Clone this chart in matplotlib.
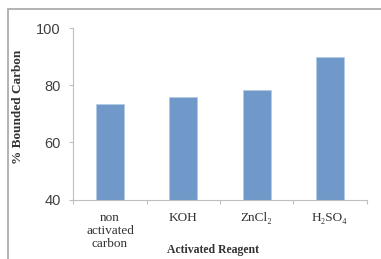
import matplotlib
matplotlib.use('Agg')
import matplotlib.pyplot as plt
from matplotlib.patches import Rectangle
import numpy as np

# data
reagents = ['non\nactivated\ncarbon', 'KOH', 'ZnCl\u2082', 'H\u2082SO\u2084']
bounded_carbon = [73.4, 75.9, 78.3, 89.9]
y_ticks = [40, 60, 80, 100]

serif = ['Liberation Serif', 'DejaVu Serif']

fig = plt.figure(figsize=(3.81, 2.59), dpi=100)
ax = fig.add_axes([0.1925, 0.2297, 0.7695, 0.661])

x = np.arange(len(reagents))
ax.bar(x, bounded_carbon, width=0.38, color='#7099c9', edgecolor='#b3cae6',
       linewidth=0.6, zorder=2)

ax.set_xlim(-0.5, len(reagents) - 0.5)
ax.set_ylim(40, 100)
ax.set_yticks(y_ticks)
ax.set_yticklabels([str(t) for t in y_ticks], fontsize=10.5, color='#404040',
                   family=['Liberation Sans', 'DejaVu Sans'])

# category labels centred, tick marks between categories
ax.set_xticks(x)
ax.set_xticklabels(reagents, fontsize=9.5, family=serif, color='#333333',
                   linespacing=1.1, va='top')
ax.tick_params(axis='x', which='major', length=0, pad=9)
ax.set_xticks(np.arange(-0.5, len(reagents)), minor=True)
ax.tick_params(axis='x', which='minor', length=3, color='#bfbfbf', width=0.8)
ax.tick_params(axis='y', length=3, color='#bfbfbf', width=0.8, pad=6)

for side in ['top', 'right']:
    ax.spines[side].set_visible(False)
for side in ['left', 'bottom']:
    ax.spines[side].set_color('#bfbfbf')
    ax.spines[side].set_linewidth(0.8)

fig.text(0.047, 0.587, '% Bounded Carbon', rotation=90, ha='center', va='center',
         fontsize=9.5, fontweight='bold', family=serif, color='#333333')
fig.text(0.56, 0.035, 'Activated Reagent', ha='center', va='center',
         fontsize=8.5, fontweight='bold', family=serif, color='#333333')

# outer chart frame (cropped at right and bottom)
fig.patches.append(Rectangle((8 / 381, -0.1), 1.2, 1 - 9 / 259 + 0.1,
                             transform=fig.transFigure, fill=False,
                             edgecolor='#a6a6a6', linewidth=1.2))

fig.savefig('out.png', dpi=100)
